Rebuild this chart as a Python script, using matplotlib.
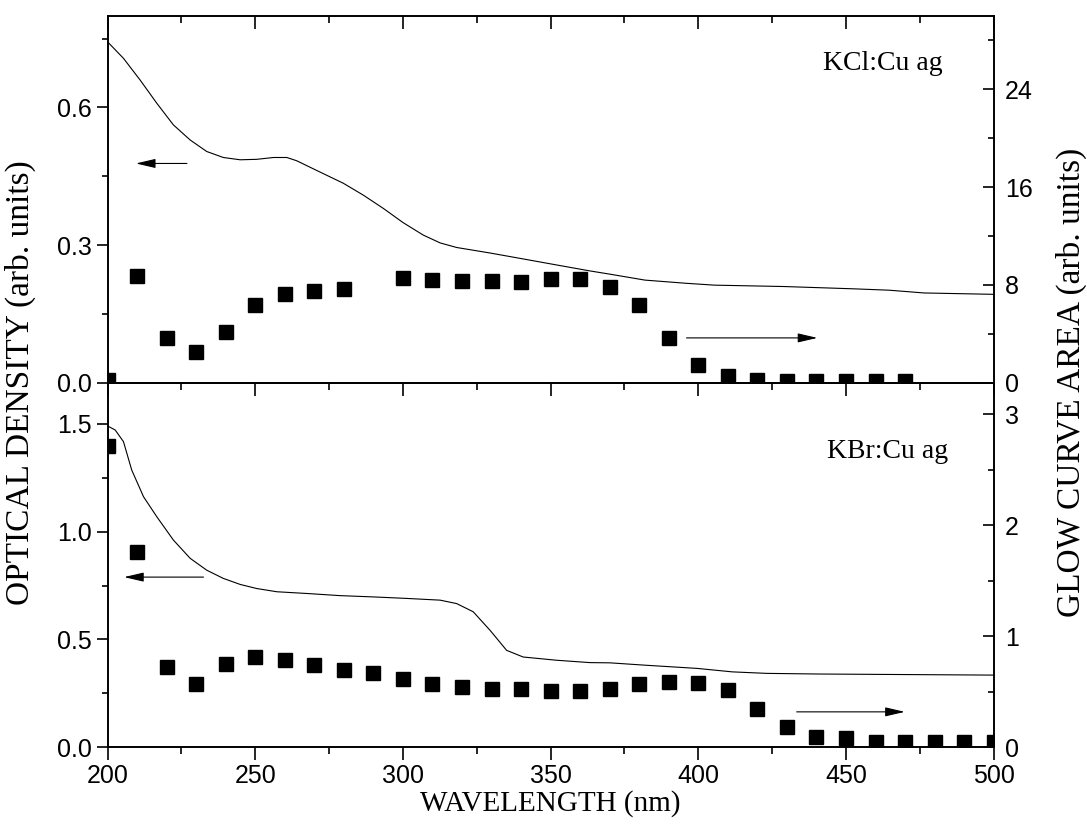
import matplotlib.pyplot as plt
from matplotlib.ticker import MultipleLocator, FormatStrFormatter

# KCl:Cu ag - optical density (left axis)
kcl_wl = [200, 205.4, 211, 216.7, 222.3, 228, 233.6, 239.2, 244.9, 250.5, 256.2, 260.7,
          264, 273, 279.8, 286.6, 293.4, 300.1, 306.9, 312.6, 318.2, 329.5, 340.8, 352,
          363.3, 370, 381.9, 396, 405.5, 429, 452.6, 464.6, 476.4, 500]
kcl_od = [0.743, 0.707, 0.660, 0.609, 0.562, 0.529, 0.504, 0.491, 0.486, 0.487, 0.491, 0.491,
          0.484, 0.456, 0.435, 0.409, 0.380, 0.349, 0.322, 0.305, 0.295, 0.283, 0.270, 0.257,
          0.244, 0.237, 0.224, 0.217, 0.213, 0.210, 0.205, 0.202, 0.196, 0.193]

# KCl:Cu ag - glow curve area (right axis)
kcl_gwl = [200, 210, 220, 230, 240, 250, 260, 270, 280, 300, 310, 320, 330, 340, 350, 360,
           370, 380, 390, 400, 410, 420, 430, 440, 450, 460, 470]
kcl_gca = [0.25, 8.76, 3.71, 2.54, 4.2, 6.33, 7.28, 7.55, 7.64, 8.54, 8.43, 8.35, 8.35, 8.26,
           8.47, 8.45, 7.85, 6.35, 3.68, 1.5, 0.55, 0.27, 0.19, 0.19, 0.19, 0.19, 0.19]

# KBr:Cu ag - optical density (left axis)
kbr_wl = [200, 202.6, 205.4, 208.2, 212.2, 216.7, 222.3, 228, 233.6, 239.2, 244.9, 250.5,
          257.3, 267.4, 278.7, 290, 301.3, 312.6, 318.2, 323.8, 329.5, 335.1, 340.7, 352,
          363.3, 370, 382, 399.7, 411.5, 423.2, 441, 464.6, 500]
kbr_od = [1.491, 1.472, 1.418, 1.286, 1.162, 1.069, 0.961, 0.876, 0.821, 0.783, 0.755, 0.736,
          0.721, 0.713, 0.703, 0.697, 0.690, 0.682, 0.666, 0.628, 0.542, 0.449, 0.418, 0.403,
          0.392, 0.391, 0.380, 0.365, 0.349, 0.342, 0.339, 0.337, 0.334]

# KBr:Cu ag - glow curve area (right axis)
kbr_gwl = list(range(200, 510, 10))
kbr_gca = [2.71, 1.76, 0.718, 0.567, 0.745, 0.808, 0.784, 0.736, 0.693, 0.663, 0.612, 0.564,
           0.540, 0.525, 0.519, 0.506, 0.506, 0.522, 0.567, 0.588, 0.573, 0.513, 0.347, 0.181,
           0.09, 0.081, 0.045, 0.045, 0.045, 0.045, 0.045]

serif = 'Liberation Serif'
sans = 'Liberation Sans'
plt.rcParams['font.family'] = sans
plt.rcParams['axes.linewidth'] = 1.2

fig = plt.figure(figsize=(10.87, 8.25), dpi=100)
ax1 = fig.add_axes([0.0989, 0.5358, 0.8153, 0.4453])
ax2 = fig.add_axes([0.0989, 0.0945, 0.8153, 0.4412])
tw1 = ax1.twinx()
tw2 = ax2.twinx()

arrow = dict(arrowstyle='-|>,head_length=1.2,head_width=0.28', lw=0.8, color='k',
             mutation_scale=10, shrinkA=0, shrinkB=0)


def style(ax, tw, lmaj, lmin, rmaj, rmin, bottom_labels):
    ax.set_xlim(200, 500)
    ax.xaxis.set_major_locator(MultipleLocator(50))
    ax.xaxis.set_minor_locator(MultipleLocator(25))
    ax.yaxis.set_major_locator(MultipleLocator(lmaj))
    ax.yaxis.set_minor_locator(MultipleLocator(lmin))
    ax.yaxis.set_major_formatter(FormatStrFormatter('%.1f'))
    tw.yaxis.set_major_locator(MultipleLocator(rmaj))
    tw.yaxis.set_minor_locator(MultipleLocator(rmin))
    ax.tick_params(axis='y', which='both', direction='out', left=True, right=False,
                   labelsize=18, width=1.2)
    ax.tick_params(axis='y', which='major', length=8)
    ax.tick_params(axis='y', which='minor', length=4.5)
    ax.tick_params(axis='x', which='both', direction='in', top=True, bottom=bottom_labels,
                   labelbottom=bottom_labels, labelsize=18, width=1.2)
    ax.tick_params(axis='x', which='major', length=9)
    ax.tick_params(axis='x', which='minor', length=5)
    if bottom_labels:
        ax.tick_params(axis='x', which='both', bottom=True, direction='out', top=True)
    tw.tick_params(axis='y', which='both', direction='in', labelsize=18, width=1.2, pad=8)
    tw.tick_params(axis='y', which='major', length=8)
    tw.tick_params(axis='y', which='minor', length=4.5)
    for lab in ax.get_xticklabels() + ax.get_yticklabels() + tw.get_yticklabels():
        lab.set_fontfamily(sans)


# top panel
ax1.plot(kcl_wl, kcl_od, color='k', lw=0.8)
tw1.plot(kcl_gwl, kcl_gca, 's', color='k', ms=9.5, ls='none')
ax1.set_ylim(0, 0.8)
tw1.set_ylim(0, 30)
style(ax1, tw1, 0.3, 0.15, 8, 4, False)
ax1.annotate('', xy=(209.6, 0.478), xytext=(226.9, 0.478), arrowprops=arrow)
tw1.annotate('', xy=(440.3, 3.68), xytext=(396, 3.68), arrowprops=arrow)
ax1.text(0.807, 0.853, 'KCl:Cu ag', transform=ax1.transAxes, family=serif, fontsize=20,
         ha='left', va='baseline')

# bottom panel
ax2.plot(kbr_wl, kbr_od, color='k', lw=0.8)
tw2.plot(kbr_gwl, kbr_gca, 's', color='k', ms=9.5, ls='none')
ax2.set_ylim(0, 1.69)
tw2.set_ylim(0, 3.28)
style(ax2, tw2, 0.5, 0.25, 1, 0.5, True)
ax2.annotate('', xy=(205.6, 0.789), xytext=(232.5, 0.789), arrowprops=arrow)
tw2.annotate('', xy=(469.9, 0.317), xytext=(433.3, 0.317), arrowprops=arrow)
ax2.text(0.812, 0.794, 'KBr:Cu ag', transform=ax2.transAxes, family=serif, fontsize=20,
         ha='left', va='baseline')

# top ticks of lower panel point into it (downward)
for t in ax2.xaxis.get_major_ticks() + ax2.xaxis.get_minor_ticks():
    t.tick2line.set_marker(3)
ax1.tick_params(axis='x', which='both', bottom=False)

fig.text(20 / 1087, 0.536, 'OPTICAL DENSITY (arb. units)', rotation=90, family=serif,
         fontsize=24, ha='center', va='center')
fig.text(1071 / 1087, 0.536, 'GLOW CURVE AREA (arb. units)', rotation=90, family=serif,
         fontsize=24, ha='center', va='center')
fig.text(550 / 1087, 0.026, 'WAVELENGTH (nm)', family=serif, fontsize=21,
         ha='center', va='center')

fig.savefig('out.png', dpi=100)
